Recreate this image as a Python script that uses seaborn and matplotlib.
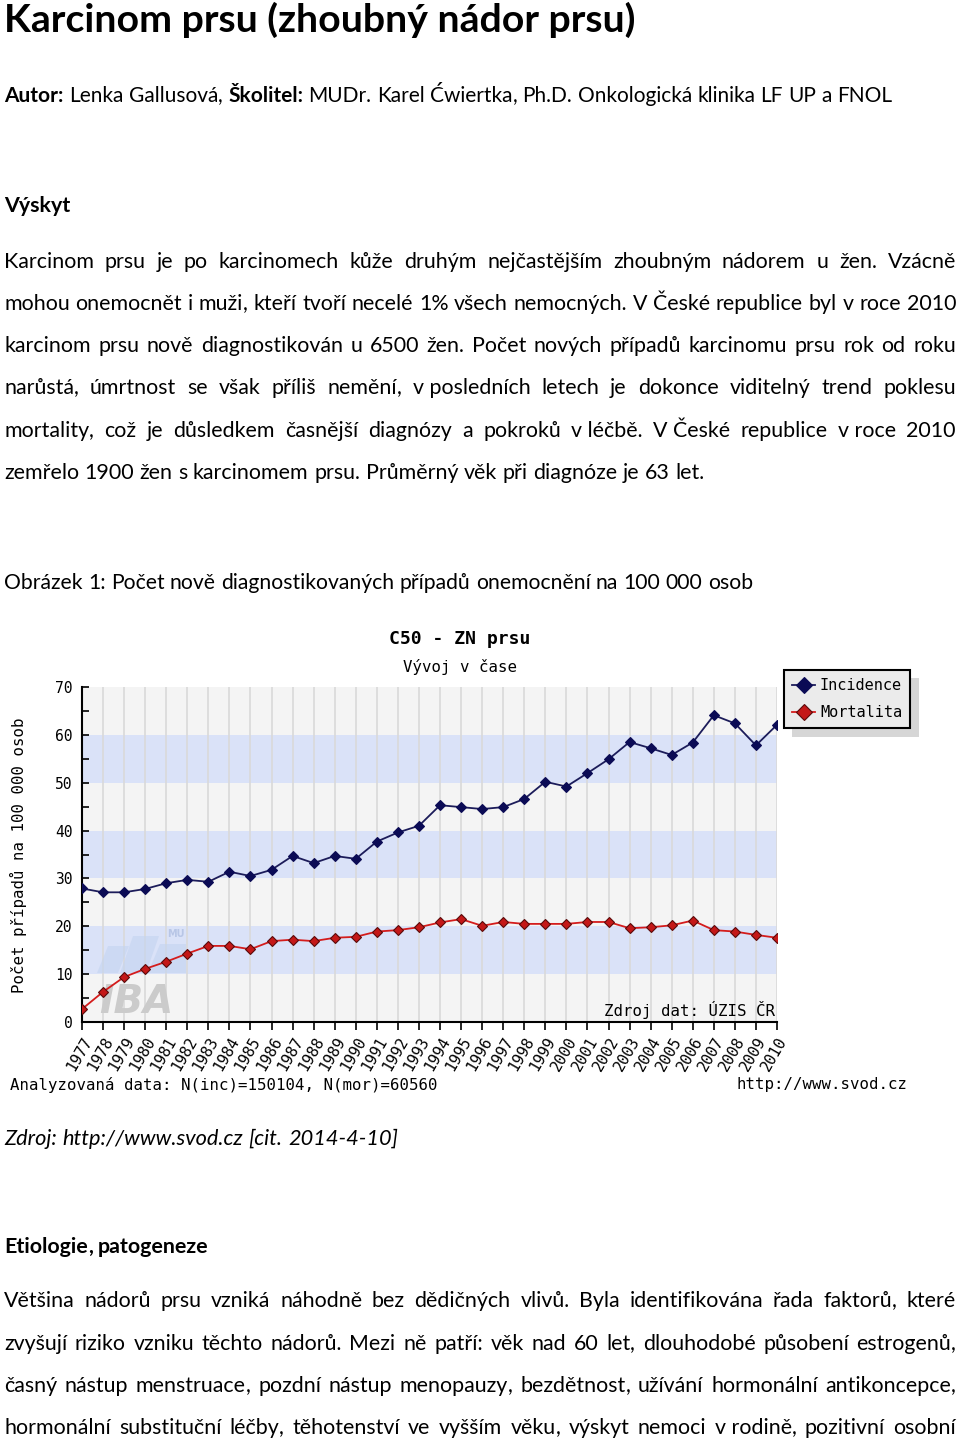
import matplotlib
matplotlib.use('Agg')
import matplotlib.pyplot as plt
import matplotlib.transforms as mtransforms
from matplotlib.patches import Polygon
import seaborn as sns
import pandas as pd

W, H = 960, 1440

# Chart data (per 100 000 people)
years = list(range(1977, 2011))
incidence = [27.9, 27.1, 27.1, 27.8, 29.0, 29.7, 29.3, 31.4, 30.5, 31.8,
             34.7, 33.2, 34.7, 34.1, 37.7, 39.6, 41.0, 45.3, 44.9, 44.5,
             44.9, 46.6, 50.2, 49.2, 52.0, 54.9, 58.5, 57.2, 55.8, 58.4,
             64.1, 62.4, 57.8, 62.1]
mortality = [2.7, 6.3, 9.4, 11.1, 12.6, 14.3, 15.9, 15.9, 15.2, 16.9,
             17.2, 16.9, 17.6, 17.8, 18.9, 19.2, 19.8, 20.8, 21.5, 20.1,
             20.9, 20.5, 20.5, 20.5, 20.9, 20.9, 19.6, 19.8, 20.2, 21.2,
             19.2, 18.9, 18.2, 17.6]
series_names = ['Incidence', 'Mortalita']
y_ticks = [0, 10, 20, 30, 40, 50, 60, 70]
blue_bands = [(10, 20), (30, 40), (50, 60)]

# Document text (\u00a0 = non-breaking space, not stretched)
title = 'Karcinom prsu (zhoubný nádor prsu)'
author_runs = [('Autor:', 'bold'), ('Lenka', 'normal'), ('Gallusová,', 'normal'),
               ('Školitel:', 'bold'), ('MUDr.', 'normal'), ('Karel', 'normal'),
               ('Ćwiertka,', 'normal'), ('Ph.D.', 'normal'), ('Onkologická', 'normal'),
               ('klinika', 'normal'), ('LF', 'normal'), ('UP', 'normal'), ('a', 'normal'),
               ('FNOL', 'normal')]
para1 = [
    'Karcinom prsu je po karcinomech kůže druhým nejčastějším zhoubným nádorem u žen. Vzácně',
    'mohou onemocnět i muži, kteří tvoří necelé 1% všech nemocných. V České republice byl v roce 2010',
    'karcinom prsu nově diagnostikován u 6500 žen. Počet nových případů karcinomu prsu rok od roku',
    'narůstá, úmrtnost se však příliš nemění, v\u00a0posledních letech je dokonce viditelný trend poklesu',
    'mortality, což je důsledkem časnější diagnózy a pokroků v\u00a0léčbě. V\u00a0České republice v\u00a0roce 2010',
    'zemřelo 1900 žen s karcinomem prsu. Průměrný věk při diagnóze je 63 let.',
]
para1_base = [268, 310, 352, 394, 437, 479]
para2 = [
    'Většina nádorů prsu vzniká náhodně bez dědičných vlivů. Byla identifikována řada faktorů, které',
    'zvyšují riziko vzniku těchto nádorů. Mezi ně patří: věk nad 60 let, dlouhodobé působení estrogenů,',
    'časný nástup menstruace, pozdní nástup menopauzy, bezdětnost, užívání hormonální antikoncepce,',
    'hormonální substituční léčby, těhotenství ve vyšším věku, výskyt nemoci v\u00a0rodině, pozitivní osobní',
]
para2_base = [1307, 1350, 1392, 1434]

BODY = ['Lato', 'DejaVu Sans']
MONO = ['DejaVu Sans Mono']

fig = plt.figure(figsize=(W / 100, H / 100), dpi=100)
fig.patch.set_facecolor('white')
renderer = fig.canvas.get_renderer()


def px(x, y):
    return x / W, 1 - y / H


def text_width(s, size, weight='normal', style='normal', family=BODY):
    t = fig.text(0, 0, s, fontsize=size, fontweight=weight, fontstyle=style, family=family)
    w = t.get_window_extent(renderer).width
    t.remove()
    return w


def put(x, base, s, size, weight, style):
    fig.text(*px(x, base), s, fontsize=size, fontweight=weight, fontstyle=style,
             family=BODY, ha='left', va='baseline', color='black')


def draw_words(tokens, x0, base, size, x1=None, style='normal', width=None):
    # tokens: list of (word, weight); justified when x1 is given
    if width is not None:
        natural = sum(text_width(w, size, wt, style) for w, wt in tokens)
        natural += (len(tokens) - 1) * (text_width('a a', size) - text_width('aa', size))
        size = size * (width / natural)
    parts = []
    for w, wt in tokens:
        w = w.replace('\u00a0', ' ')
        # trailing comma drawn on its own so the word keeps the line's baseline
        head, tail = (w[:-1], w[-1]) if w.endswith(',') and len(w) > 1 else (w, '')
        wh = text_width(head, size, wt, style)
        wt_ = text_width(tail, size, wt, style) if tail else 0
        parts.append((head, tail, wt, wh, wt_))
    space = text_width('a a', size) - text_width('aa', size)
    total = sum(p[3] + p[4] for p in parts)
    gap = space if x1 is None else (x1 - x0 - total) / (len(parts) - 1)
    x = x0
    for head, tail, wt, wh, wtl in parts:
        put(x, base, head, size, wt, style)
        if tail:
            put(x + wh, base, tail, size, wt, style)
        x += wh + wtl + gap


body_fs = 10 * 698 / text_width(para1[-1], 10)
title_fs = 10 * 634 / text_width(title, 10, 'bold')

fig.text(*px(4, 32), title, fontsize=title_fs, fontweight='bold', family=BODY,
         ha='left', va='baseline')
draw_words(author_runs, 4, 102, body_fs, width=892)
draw_words([('Výskyt', 'bold')], 4, 212, body_fs)

for i, (line, base) in enumerate(zip(para1, para1_base)):
    toks = [(w, 'normal') for w in line.split(' ')]
    draw_words(toks, 4, base, body_fs, None if i == len(para1) - 1 else 956)

draw_words([(w, 'normal') for w in
            'Obrázek 1: Počet nově diagnostikovaných případů onemocnění na 100 000 osob'.split(' ')],
           4, 589, body_fs, width=751)
draw_words([(w, 'normal') for w in 'Zdroj: http://www.svod.cz [cit. 2014-4-10]'.split(' ')],
           4, 1145, body_fs, style='italic', width=394)
draw_words([('Etiologie,', 'bold'), ('patogeneze', 'bold')], 4, 1253, body_fs)

for line, base in zip(para2, para2_base):
    draw_words([(w, 'normal') for w in line.split(' ')], 4, base, body_fs, 956)

# ---- chart ----
df = pd.DataFrame({
    'rok': years + years,
    'hodnota': incidence + mortality,
    'ukazatel': [series_names[0]] * len(years) + [series_names[1]] * len(years),
})

ax = fig.add_axes([82 / W, 1 - 1022 / H, 695 / W, 335 / H])
ax.set_facecolor('#f4f4f4')
for lo, hi in blue_bands:
    ax.axhspan(lo, hi, color='#dae2f8', zorder=0, lw=0)
ax.set_xticks(years)
ax.grid(axis='x', color='#d9d9d9', lw=1.2, zorder=0.5)
ax.set_axisbelow(True)

# faded logo watermark behind the lines
for pts in [[(97, 973), (108, 946), (129, 946), (118, 973)],
            [(120, 973), (133, 936), (159, 936), (146, 973)],
            [(148, 973), (160, 944), (186, 944), (186, 973)]]:
    ax.add_patch(Polygon([px(x, y) for x, y in pts], closed=True, transform=fig.transFigure,
                         facecolor='#c4d4f0', edgecolor='none', alpha=0.6, zorder=1))
ax.text(*px(99, 1013), 'IBA', transform=fig.transFigure, fontsize=28, fontweight='bold',
        fontstyle='italic', family=['DejaVu Sans'], color='#cbcbcb', zorder=1, va='baseline')
ax.text(*px(167, 937), 'MU', transform=fig.transFigure, fontsize=7, fontweight='bold',
        family=['DejaVu Sans'], color='#b8c6e6', zorder=1, va='baseline')

styles = {
    'Incidence': dict(color='#1c1c5a', mfc='#0b0b55', mec='#0b0b55'),
    'Mortalita': dict(color='#d41c1c', mfc='#c41818', mec='#5a0a0a'),
}
for name in series_names:
    st = styles[name]
    sns.lineplot(data=df[df['ukazatel'] == name], x='rok', y='hodnota', ax=ax,
                 color=st['color'], lw=1.3, marker='D', markersize=5.5,
                 markerfacecolor=st['mfc'], markeredgecolor=st['mec'],
                 markeredgewidth=0.8, label=name, zorder=3)

ax.set_xlim(years[0], years[-1])
ax.set_ylim(y_ticks[0], y_ticks[-1])
ax.set_yticks(y_ticks)
ax.set_yticks([t + 5 for t in y_ticks[:-1]], minor=True)
ax.set_xticklabels([str(y) for y in years], rotation=60, ha='right',
                   rotation_mode='anchor', family=MONO, fontsize=11)
shift = mtransforms.ScaledTranslation(-5 / 100, 0, fig.dpi_scale_trans)
for lab in ax.get_xticklabels():
    lab.set_transform(lab.get_transform() + shift)
ax.set_yticklabels([str(t) for t in y_ticks], family=MONO, fontsize=10.5)
ax.set_xlabel('')
ax.set_ylabel('')
for side in ['top', 'right']:
    ax.spines[side].set_visible(False)
for side in ['left', 'bottom']:
    ax.spines[side].set_color('black')
    ax.spines[side].set_linewidth(1.5)
ax.tick_params(axis='x', direction='out', length=6, width=1.2, pad=3)
ax.tick_params(axis='y', which='both', direction='in', length=5, width=1.2, pad=7)

ax.legend(loc='upper left', bbox_to_anchor=px(784, 670), bbox_transform=fig.transFigure,
          prop={'family': 'DejaVu Sans Mono', 'size': 11}, frameon=True, fancybox=False,
          edgecolor='black', facecolor='#ebebeb', framealpha=1, borderaxespad=0,
          borderpad=0.55, labelspacing=0.75, handlelength=1.5, handletextpad=0.3,
          markerscale=1.5,
          shadow={'ox': 6, 'oy': -6, 'facecolor': '#d6d6d6', 'edgecolor': 'none', 'alpha': 1})
ax.get_legend().get_frame().set_linewidth(1.5)

fig.text(*px(460, 639), 'C50 - ZN prsu', family=MONO, fontweight='bold', fontsize=13,
         ha='center', va='center')
fig.text(*px(460, 667), 'Vývoj v čase', family=MONO, fontsize=11.3, ha='center', va='center')
fig.text(*px(18, 855), 'Počet případů na 100 000 osob', family=MONO, fontsize=11.3,
         rotation=90, ha='center', va='center')
fig.text(*px(775, 1010), 'Zdroj dat: ÚZIS ČR', family=MONO, fontsize=11.3, ha='right', va='center')
fig.text(*px(10, 1085), 'Analyzovaná data: N(inc)=150104, N(mor)=60560', family=MONO,
         fontsize=11.3, ha='left', va='center')
fig.text(*px(907, 1085), 'http://www.svod.cz', family=MONO, fontsize=11.3,
         ha='right', va='center')

fig.savefig('out.png', dpi=100, facecolor='white')
